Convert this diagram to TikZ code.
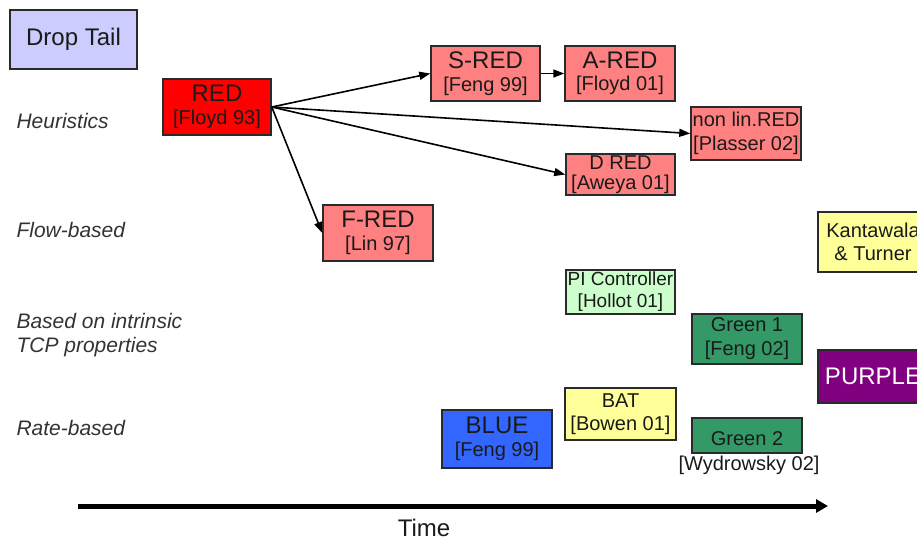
\documentclass[tikz,border=0pt]{standalone}
\usepackage{fontspec}
\setmainfont{Liberation Sans}
\usetikzlibrary{arrows.meta}
\definecolor{droptail}{HTML}{CCCCFF}
\definecolor{redfill}{HTML}{FF0000}
\definecolor{pinkfill}{HTML}{FF8080}
\definecolor{yellowfill}{HTML}{FFFF99}
\definecolor{lightgreen}{HTML}{CCFFCC}
\definecolor{greenfill}{HTML}{339966}
\definecolor{purplefill}{HTML}{800080}
\definecolor{bluefill}{HTML}{3366FF}
\definecolor{edge}{HTML}{2A2A2A}
\definecolor{txt}{HTML}{1A1A1A}
\begin{document}
\begin{tikzpicture}[x=1pt,y=-1pt,
  box/.style={draw=edge, line width=1.5pt, inner sep=0pt, align=center, text=txt,
    font=\fontsize{20}{23}\selectfont},
  bigbox/.style={box, font=\fontsize{20}{22.5}\selectfont},
  catlabel/.style={anchor=base west, text=black!80, font=\fontsize{21}{24}\selectfont\itshape, align=left},
  conn/.style={draw=black, line width=1.6pt, -{Triangle[length=11pt,width=8pt]}}
]
\useasboundingbox (0,0) rectangle (917,542);

% category labels
\node[catlabel] (heur) at (13,128) {Heuristics};
\node[catlabel] (flow) at (13,237) {Flow-based};
\node[catlabel] (intr) at (13,352) {Based on intrinsic\\TCP properties};
\node[catlabel] (rate) at (13,435) {Rate-based};

% boxes
\node[box, fill=droptail, minimum width=127pt, minimum height=59pt,
  font=\fontsize{24}{24}\selectfont] (drop) at (73.5,39.5) {Drop Tail};
\node[bigbox, fill=redfill, minimum width=108pt, minimum height=56pt] (red) at (217,107)
  {{\fontsize{24}{22.5}\selectfont RED}\\{[Floyd 93]}};
\node[bigbox, fill=pinkfill, minimum width=109pt, minimum height=55pt] (sred) at (485.5,73.5)
  {{\fontsize{24}{22.5}\selectfont S-RED}\\{[Feng 99]}};
\node[bigbox, fill=pinkfill, minimum width=110pt, minimum height=55pt] (ared) at (620,73.5)
  {{\fontsize{24}{22.5}\selectfont A-RED}\\{[Floyd 01]}};
\node[box, fill=pinkfill, minimum width=110pt, minimum height=53pt,
  font=\fontsize{20}{24}\selectfont] (nonlin) at (746,133.5) {non lin.RED\\{[Plasser 02]}};
\node[box, fill=pinkfill, minimum width=109pt, minimum height=41pt,
  font=\fontsize{20}{20}\selectfont] (dred) at (620.5,174.5) {D RED\\{[Aweya 01]}};
\node[bigbox, fill=pinkfill, minimum width=110pt, minimum height=56pt] (fred) at (378,233)
  {{\fontsize{24}{22.5}\selectfont F-RED}\\{[Lin 97]}};
\node[box, fill=yellowfill, minimum width=110pt, minimum height=60pt] (kant) at (873,242)
  {Kantawala\\\& Turner};
\node[box, fill=lightgreen, minimum width=109pt, minimum height=44pt,
  font=\fontsize{19}{22}\selectfont] (pi) at (620.5,292) {PI Controller\\{[Hollot 01]}};
\node[box, fill=greenfill, minimum width=110pt, minimum height=50pt,
  font=\fontsize{20}{24}\selectfont] (green1) at (747,339) {Green 1\\{[Feng 02]}};
\node[box, fill=purplefill, minimum width=110pt, minimum height=53pt, text=white,
  font=\fontsize{24}{24}\selectfont] (purple) at (873,376.5) {PURPLE};
\node[box, fill=yellowfill, minimum width=111pt, minimum height=52pt] (bat) at (620.5,414)
  {BAT\\{[Bowen 01]}};
\node[bigbox, fill=bluefill, minimum width=110pt, minimum height=58pt] (blue) at (497,439)
  {{\fontsize{24}{22.5}\selectfont BLUE}\\{[Feng 99]}};
\node[box, fill=greenfill, minimum width=110pt, minimum height=35pt,
  text height=20pt, text depth=0pt] (green2) at (747,435.5) {Green 2};
\node[anchor=base, text=txt, font=\fontsize{20}{20}\selectfont] (wyd) at (749,470) {[Wydrowsky 02]};

% connectors
\draw[conn] (red.east) -- (sred.west);
\draw[conn] (red.east) -- (nonlin.west);
\draw[conn] (red.east) -- (dred.west);
\draw[conn] (red.east) -- (fred.west);
\draw[conn] (sred.east) -- (ared.west);

% time axis
\coordinate (ts) at (78,506);
\coordinate (te) at (828,506);
\draw[line width=5pt, -{Triangle[length=12pt,width=13pt]}] (ts) -- (te);
\node[anchor=base, text=txt, font=\fontsize{24}{24}\selectfont] (time) at (424,536) {Time};
\end{tikzpicture}
\end{document}
